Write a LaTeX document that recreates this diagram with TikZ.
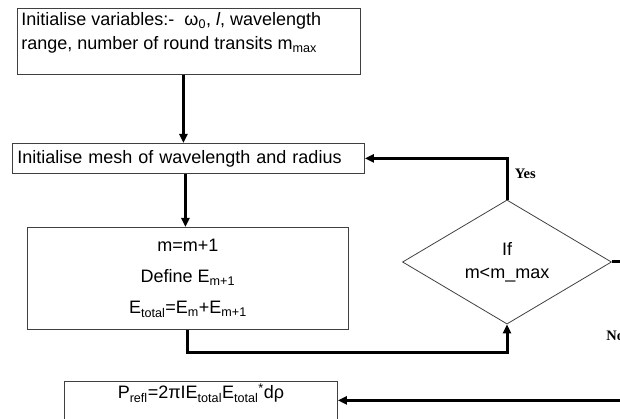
\documentclass[tikz,border=0pt]{standalone}
\usepackage{fontspec}
\setmainfont{Liberation Sans}
\newfontfamily\yesnofont{Liberation Serif}
\usetikzlibrary{shapes.geometric,arrows.meta}

\begin{document}
\begin{tikzpicture}[x=1pt, y=-1pt, >={Triangle[length=9pt,width=8pt]}, font=\fontsize{18}{24}\selectfont,
    box/.style={rectangle, draw=black!75, line width=0.8pt, inner sep=5pt},
    test/.style={diamond, draw=black!75, line width=0.8pt, inner sep=0pt, minimum width=209pt, minimum height=123pt, align=center, font=\fontsize{18}{23}\selectfont},
    flow/.style={->, line width=3pt},
    answer/.style={font=\yesnofont\bfseries\fontsize{14.5}{16}\selectfont}]
        \useasboundingbox (0,0) rectangle (620,419);

        \node[box, anchor=north west, inner sep=4pt] (vars) at (17,8) {\parbox[t][58pt][t]{335pt}{Initialise variables:-\ \ ω\textsubscript{0}, \textit{l}, wavelength\\range, number of round transits m\textsubscript{max}}};
        \node[box, anchor=north west, minimum width=352pt, minimum height=30pt, text width=342pt, align=left] (mesh) at (12,143) {Initialise mesh of wavelength and radius};
        \node[box, anchor=north west, minimum width=321pt, minimum height=102pt, align=center, font=\fontsize{18}{31}\selectfont] (update) at (27,227) {m=m+1\\Define E\textsubscript{m+1}\\E\textsubscript{total}=E\textsubscript{m}+E\textsubscript{m+1}};
        \node[test] (test) at (507,262) {If\\m<m\_max};
        \node[box, anchor=north west, minimum width=273pt, inner ysep=3pt, text height=14.5pt, text depth=17.5pt] (power) at (64,381) {P\textsubscript{refl}=2πIE\textsubscript{total}E\textsubscript{total}\textsuperscript{*}dρ};

        \path ([xshift=-5.5pt]vars.south) edge [flow] ([xshift=-5.5pt]vars.south |- mesh.north)
            ([xshift=-3pt]mesh.south) edge [flow] ([xshift=-3pt]mesh.south |- update.north);
        \draw[flow] (update.south) -- ++(0,23) -| (test.south);
        \draw[flow] (test.north) |- node[answer, pos=0.31, right=3pt] {Yes} (mesh.east);
        \draw[flow] (test.east) -- ++(20,0) |- node[answer, pos=0.265, left=3pt] {No} (power.east);
    \end{tikzpicture}
\end{document}
